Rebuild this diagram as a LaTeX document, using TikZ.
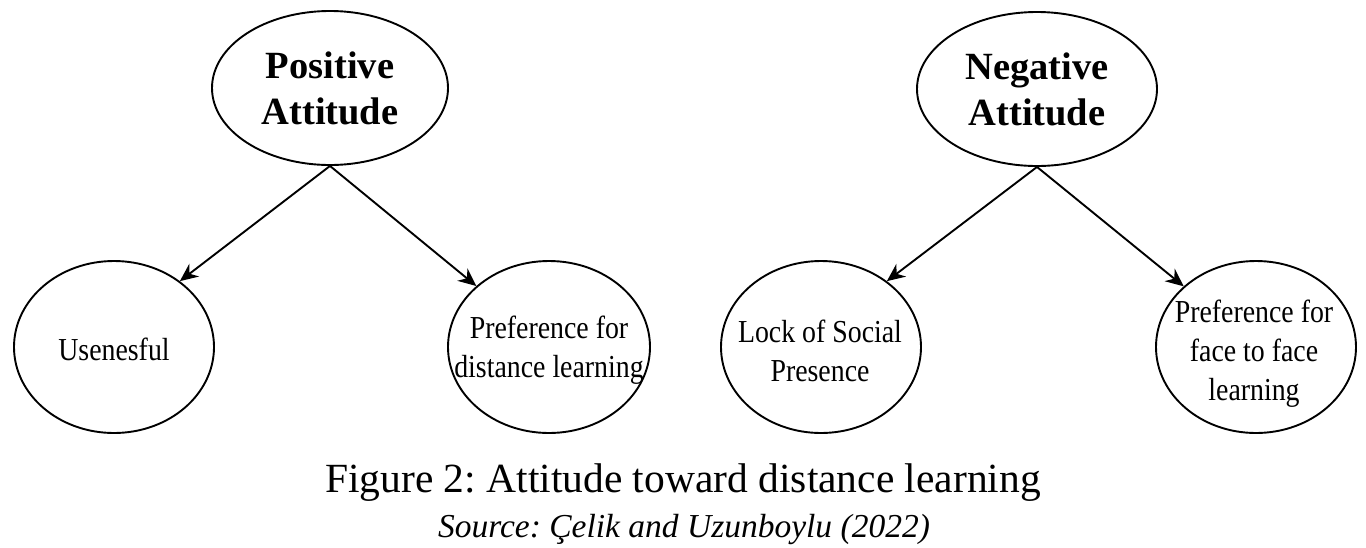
\documentclass[tikz,border=0pt]{standalone}
\usepackage{fontspec}
\setmainfont{Liberation Serif}
\newfontfamily\narrowserif[FakeStretch=0.87]{Liberation Serif}
\usetikzlibrary{shapes.geometric,arrows.meta}
\frenchspacing
\begin{document}
\begin{tikzpicture}[x=1pt,y=-1pt,
  topnode/.style={draw, line width=1.9pt, ellipse, inner sep=0pt,
    minimum width=236pt, minimum height=154pt, align=center,
    font=\fontsize{38.5}{46}\selectfont\bfseries},
  subnode/.style={draw, line width=1.9pt, ellipse, inner sep=0pt,
    minimum width=200pt, minimum height=172pt},
  subtext/.style={align=center, inner sep=0pt,
    font=\narrowserif\fontsize{32}{39}\selectfont},
  link/.style={line width=1.9pt, -{Stealth[length=18pt,width=16pt]}}]
\useasboundingbox (0,0) rectangle (1366,547);

\node[topnode] (pos) at (330,88) {Positive\\Attitude};
\node[topnode, minimum width=240pt] (neg) at (1037,89) {Negative\\Attitude};

\node[subnode] (use) at (114,347) {};
\node[subnode, minimum width=202pt] (pdl) at (549,347) {};
\node[subnode] (lsp) at (821,347) {};
\node[subnode] (pff) at (1256,347) {};

\node[subtext] (useT) at (114,349) {Usenesful};
\node[subtext] (pdlT) at (549,350) {Preference for\\distance learning};
\node[subtext] (lspT) at (820,351) {Lock of Social\\Presence};
\node[subtext] (pffT) at (1254,354) {Preference for\\face to face\\learning};

\draw[link] (pos.south) -- (use.45);
\draw[link] (pos.south) -- (pdl.140);
\draw[link] (neg.south) -- (lsp.45);
\draw[link] (neg.south) -- (pff.140);

\node[anchor=base, inner sep=0pt, font=\fontsize{41.5}{48}\selectfont] (cap) at (683,492)
  {Figure 2: Attitude toward distance learning};
\node[anchor=base, inner sep=0pt, font=\fontsize{33.5}{38}\selectfont\itshape] (src) at (684,537)
  {Source: Çelik and Uzunboylu (2022)};
\end{tikzpicture}
\end{document}
